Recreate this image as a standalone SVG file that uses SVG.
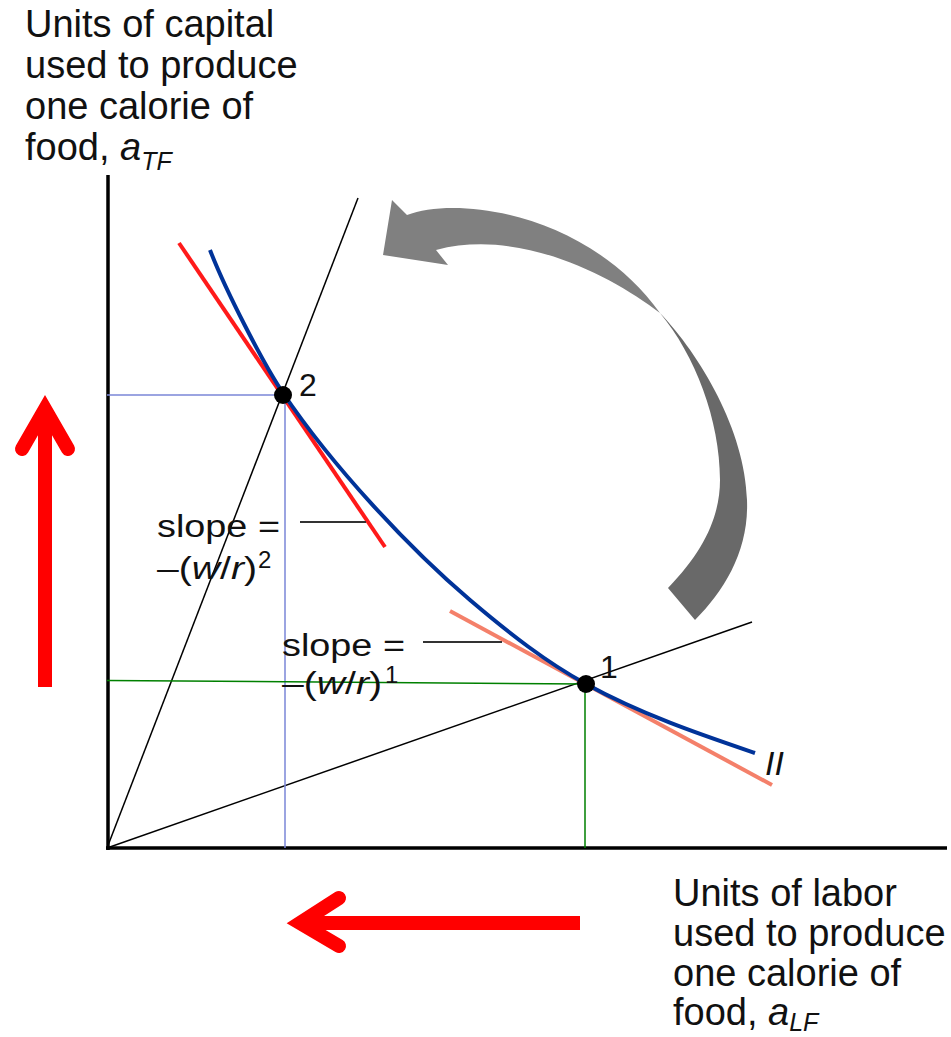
<svg xmlns="http://www.w3.org/2000/svg" width="951" height="1037" viewBox="0 0 951 1037">
<style>
text{font-family:"Liberation Sans",Arial,sans-serif;fill:#111}
.lbl{font-size:38px}
.sub{font-size:25px;font-style:italic}
.it{font-style:italic}
.slope{font-size:31px}
.sup{font-size:24px}
.num{font-size:32px}
.thin{fill:none;stroke-width:1.5}
.red{fill:none;stroke:#ff0000;stroke-width:14}
</style>
<rect width="951" height="1037" fill="#fff"/>
<g id="axes" fill="none" stroke="#000">
<line x1="108" y1="175" x2="108" y2="850" stroke-width="3.5"/>
<line x1="106" y1="848" x2="947" y2="848" stroke-width="3.5"/>
</g>
<g id="connectors">
<line class="thin" stroke="#000" x1="107" y1="848" x2="358" y2="198"/>
<line class="thin" stroke="#000" x1="107" y1="848" x2="752" y2="622"/>
<polyline class="thin" stroke="#7b86d8" points="107,395 285,395 285,848"/>
<polyline class="thin" stroke="#008000" points="107,680.5 585,684 585,848"/>
<line stroke="#ff1a1a" stroke-width="4" x1="179" y1="243" x2="385" y2="547"/>
<line stroke="#f4806a" stroke-width="4" x1="450" y1="611" x2="772" y2="785"/>
<path id="isoquant" fill="none" stroke="#003399" stroke-width="4" d="M210,250 C225,289 263,363.4 283,393 C333,467 410,549 470,600 C510,634 546,662 586,684 C642,715 705,736 755,753"/>
<line stroke="#333" stroke-width="2.2" x1="300" y1="522" x2="366" y2="522"/>
<line stroke="#333" stroke-width="2.2" x1="423" y1="642" x2="502" y2="642"/>
</g>
<g id="point2">
<circle cx="283" cy="395" r="9" fill="#000"/>
<text class="num" x="299" y="396">2</text>
</g>
<g id="point1">
<circle cx="586" cy="684" r="9" fill="#000"/>
<text class="num" x="600" y="678">1</text>
</g>
<g id="curve-label">
<text class="it" font-size="34" x="765" y="775">II</text>
</g>
<g id="slope2">
<text class="slope" x="157" y="537" textLength="123" lengthAdjust="spacingAndGlyphs">slope =</text>
<text class="slope" x="157" y="579" textLength="100" lengthAdjust="spacingAndGlyphs">–(<tspan class="it">w</tspan>/<tspan class="it">r</tspan>)</text>
<text class="sup" x="258" y="568">2</text>
</g>
<g id="slope1">
<text class="slope" x="282" y="656" textLength="123" lengthAdjust="spacingAndGlyphs">slope =</text>
<text class="slope" x="282" y="694" textLength="100" lengthAdjust="spacingAndGlyphs">–(<tspan class="it">w</tspan>/<tspan class="it">r</tspan>)</text>
<text class="sup" x="385" y="683">1</text>
</g>
<g id="ylabel">
<text class="lbl" x="25" y="37">Units of capital</text>
<text class="lbl" x="25" y="78">used to produce</text>
<text class="lbl" x="25" y="119">one calorie of</text>
<text class="lbl" x="25" y="160">food, <tspan class="it">a</tspan><tspan class="sub" dy="10">TF</tspan></text>
</g>
<g id="xlabel">
<text class="lbl" x="673" y="906">Units of labor</text>
<text class="lbl" x="673" y="946">used to produce</text>
<text class="lbl" x="673" y="986">one calorie of</text>
<text class="lbl" x="673" y="1025">food, <tspan class="it">a</tspan><tspan class="sub" dy="6">LF</tspan></text>
</g>
<g id="gray-arrow">
<path fill="#808080" d="M660,313 C590,215 460,195 407,215 L392,200 L383,255 L448,265 L436,250 C520,228 610,275 660,313 Z"/>
<path fill="#696969" d="M660,313 C700,355 745,430 747,500 C749,550 725,590 695,620 L668,588 C705,550 720,515 720,480 C720,420 695,355 660,313 Z"/>
</g>
<g id="red-up">
<line class="red" x1="45" y1="687" x2="45" y2="412"/>
<polyline class="red" stroke-linecap="round" stroke-linejoin="miter" points="22,449 45,409 68,449"/>
</g>
<g id="red-left">
<line class="red" x1="580" y1="923" x2="305" y2="923"/>
<polyline class="red" stroke-linecap="round" stroke-linejoin="miter" points="339,898 300,923 339,946"/>
</g>
</svg>
